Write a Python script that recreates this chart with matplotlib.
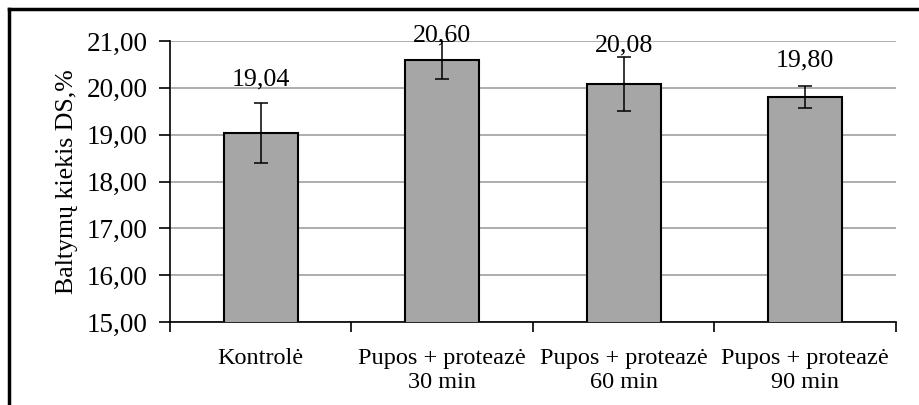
import matplotlib
matplotlib.use("Agg")
import matplotlib.pyplot as plt
from matplotlib.lines import Line2D
from matplotlib.ticker import FuncFormatter

categories = ["Kontrolė", "Pupos + proteazė\n30 min", "Pupos + proteazė\n60 min", "Pupos + proteazė\n90 min"]
values = [19.04, 20.60, 20.08, 19.80]
errors = [0.64, 0.41, 0.57, 0.24]
value_labels = ["19,04", "20,60", "20,08", "19,80"]
label_offsets = [1.02, 0.385, 0.69, 0.65]

plt.rcParams['font.family'] = ['Liberation Serif', 'DejaVu Serif']

fig = plt.figure(figsize=(9.2, 4.05), dpi=100)
ax = fig.add_axes([170/920, 1-322/405, (896-170)/920, (322-41)/405])

x = list(range(len(categories)))
ax.bar(x, values, width=0.41, bottom=0, color='#a6a6a6', edgecolor='black', linewidth=1.5, zorder=3)
ax.errorbar(x, values, yerr=errors, fmt='none', ecolor='black', elinewidth=1.1, capsize=5, capthick=1.1, zorder=4)

for xi, v, lab, off in zip(x, values, value_labels, label_offsets):
    ax.text(xi, v + off, lab, ha='center', va='baseline', fontsize=18.7, zorder=5)

ax.set_ylim(15, 21)
ax.set_xlim(-0.5, len(categories) - 0.5)
ax.set_yticks([15, 16, 17, 18, 19, 20, 21])
ax.yaxis.set_major_formatter(FuncFormatter(lambda v, p: f"{v:.2f}".replace('.', ',')))
ax.yaxis.grid(True, color='#a0a0a0', linewidth=1.2, zorder=0)
ax.set_axisbelow(True)

ax.set_xticks([-0.5, 0.5, 1.5, 2.5, 3.5])
ax.set_xticklabels([])
ax.set_xticks(x, minor=True)
ax.set_xticklabels(categories, minor=True, fontsize=17.5, linespacing=1.15)
ax.tick_params(axis='x', which='minor', length=0, pad=19)
ax.tick_params(axis='x', which='major', length=7, width=1.2, direction='out')
ax.tick_params(axis='y', length=8, width=1.2, direction='out', labelsize=19.5, pad=8)

for s in ['top', 'right']:
    ax.spines[s].set_visible(False)
ax.spines['left'].set_linewidth(1.2)
ax.spines['bottom'].set_linewidth(1.2)

ax.set_ylabel("Baltymų kiekis DS,%", fontsize=18.6, labelpad=6)

fig.add_artist(Line2D([9/920, 9/920], [0, 1-9/405], transform=fig.transFigure, color='black', linewidth=2.5))
fig.add_artist(Line2D([9/920, 1], [1-9/405, 1-9/405], transform=fig.transFigure, color='black', linewidth=2.5))

fig.savefig("out.png", dpi=100)
